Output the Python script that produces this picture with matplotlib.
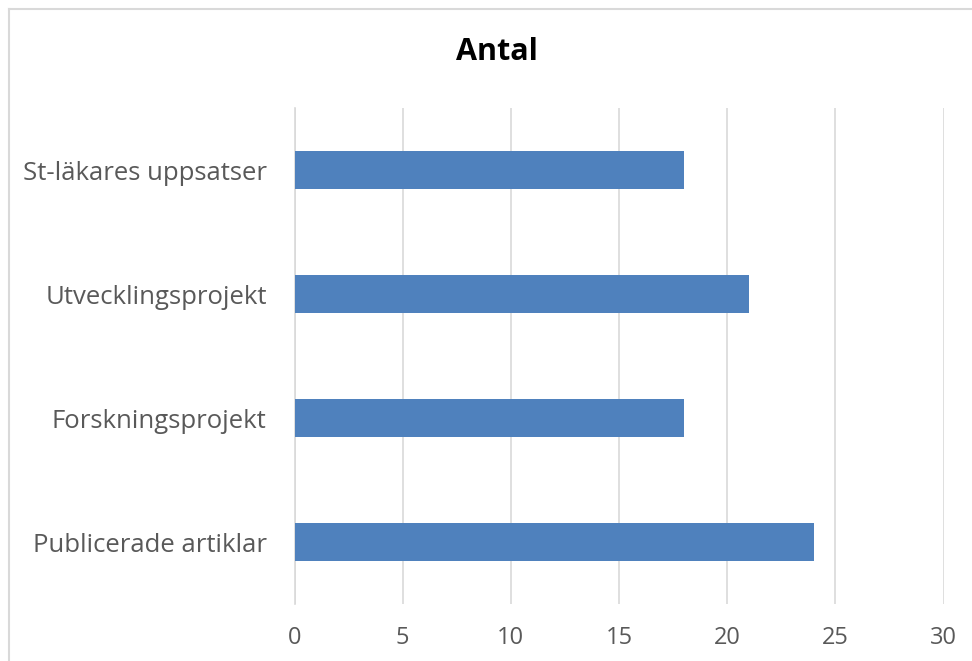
import matplotlib
matplotlib.use("Agg")
import matplotlib.pyplot as plt
from matplotlib.lines import Line2D

categories = ["Publicerade artiklar", "Forskningsprojekt", "Utvecklingsprojekt", "St-läkares uppsatser"]
values = [24, 18, 21, 18]
xticks = [0, 5, 10, 15, 20, 25, 30]

plt.rcParams['font.family'] = ['Open Sans', 'DejaVu Sans']

W, H = 972, 661
fig = plt.figure(figsize=(W/100, H/100), dpi=100)
# chart-area border (only top and left visible in reference)
fig.lines.append(Line2D([8.5/W, 1.0], [1 - 8.5/H, 1 - 8.5/H], transform=fig.transFigure,
                        color='#D9D9D9', linewidth=1.5))
fig.lines.append(Line2D([8.5/W, 8.5/W], [0, 1 - 8.5/H], transform=fig.transFigure,
                        color='#D9D9D9', linewidth=1.5))
ax = fig.add_axes([294.5/W, 1 - 604/H, 649/W, (604-108)/H])
y = list(range(len(categories)))
ax.barh(y, values, height=0.31, color='#4F81BD', zorder=3)
ax.set_xlim(0, 30)
ax.set_ylim(-0.5, len(categories) - 0.5)
ax.set_xticks(xticks)
ax.set_xticklabels([str(t) for t in xticks])
ax.set_yticks(y)
ax.set_yticklabels(categories)
ax.grid(axis='x', color='#D9D9D9', linewidth=1.2, zorder=0)
for s in ['top', 'right', 'bottom']:
    ax.spines[s].set_visible(False)
ax.spines['left'].set_color('#D9D9D9')
ax.spines['left'].set_linewidth(1.2)
ax.tick_params(axis='both', length=0, labelcolor='#595959')
ax.tick_params(axis='x', pad=16, labelsize=17)
ax.tick_params(axis='y', pad=20, labelsize=18.5)
fig.text(497/W, 1 - 52/H, "Antal", ha='center', va='center', fontsize=22, fontweight='bold', color='black')
fig.savefig("out.png", dpi=100)
